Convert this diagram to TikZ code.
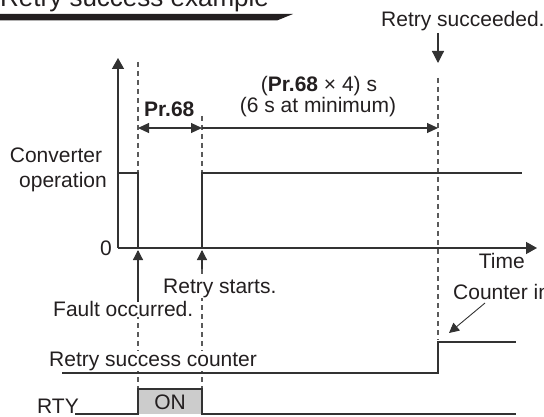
\documentclass[tikz,border=0pt]{standalone}
\usepackage{fontspec}
\setmainfont{Liberation Sans}
\usetikzlibrary{arrows.meta,positioning}
\definecolor{inkgray}{RGB}{35,31,32}
\definecolor{linegray}{RGB}{50,50,50}
\definecolor{dashgray}{RGB}{90,90,90}
\definecolor{onfill}{RGB}{204,204,204}

\begin{document}
\begin{tikzpicture}[x=1pt, y=-1pt,
  lbl/.style={font=\fontsize{21}{24}\selectfont, text=inkgray, inner sep=1pt},
  cutlbl/.style={lbl, fill=white},
  sigline/.style={line width=1.4pt, color=linegray},
  axisedge/.style={line width=1.5pt, color=linegray, -{Triangle[length=11pt, width=12pt]}},
  guideline/.style={line width=1.3pt, color=dashgray, dash pattern=on 5pt off 4pt},
  dimedge/.style={line width=1.1pt, color=linegray,
                  {Triangle[length=11pt, width=10pt]}-{Triangle[length=11pt, width=10pt]}},
  spanedge/.style={line width=1.1pt, color=linegray, -{Triangle[length=11pt, width=10pt]}},
  evedge/.style={line width=1.2pt, color=linegray, -{Triangle[length=10pt, width=10pt]}}
]
\clip (0,0) rectangle (544,417);

%% ===== title =====
\node[anchor=base west, font=\fontsize{26}{30}\selectfont, text=inkgray, inner sep=0pt]
  (title) at (0,7) {Retry success example};
\fill[inkgray] (0,14) -- (293,14) -- (277,20.5) -- (0,20.5) -- cycle;

%% ===== time marks =====
\coordinate (fTop) at (138,62);   \coordinate (fBot) at (138,389);
\coordinate (rTop) at (202,116);  \coordinate (rBot) at (202,389);
\coordinate (sTop) at (438,78);   \coordinate (sBot) at (438,340);
\draw[guideline] (fTop) -- (fBot);
\draw[guideline] (rTop) -- (rBot);
\draw[guideline] (sTop) -- (sBot);

%% ===== labels (cut the guides) =====
\node[cutlbl, anchor=base west] (fault) at (52,316) {Fault occurred.};
\node[cutlbl, anchor=base west] (start) at (162,293) {Retry starts.};
\node[cutlbl, anchor=base west] (cntlbl) at (48,366) {Retry success counter};
\node[lbl, anchor=base west] (succ) at (380,27) {Retry succeeded.};
\node[lbl, anchor=base west] (incr) at (452,299) {Counter in};

%% ===== axes =====
\coordinate (org) at (118,248);
\coordinate (ytop) at (118,58);
\coordinate (xend) at (537,248);
\draw[axisedge] (org) -- (ytop);
\draw[axisedge] (org) -- (xend);
\node[lbl, anchor=base east] (zero) at (113,255) {0};
\node[lbl, anchor=base east] (time) at (526,268) {Time};
\node[lbl, anchor=base] (conv) at (56,163) {Converter};
\node[lbl, anchor=base] (oper) at (63,188) {operation};

%% ===== converter operation =====
\draw[sigline] (118,173) -| (138,248);
\draw[sigline] (202,248) |- (522,173);

%% ===== durations =====
\coordinate (dA) at (138,128);
\coordinate (dB) at (202,128);
\coordinate (dC) at (438,128);
\draw[dimedge] (dA) -- (dB);
\draw[spanedge] (dB) -- (dC);
\node[lbl, anchor=base west, font=\fontsize{21}{24}\selectfont\bfseries] (pr) at (143,117) {Pr.68};
\node[lbl, anchor=base] (prx) at (319,92) {(\textbf{Pr.68} × 4) s};
\node[lbl, anchor=base] (prmin) at (318,113) {(6 s at minimum)};

%% ===== event arrows =====
\coordinate (fArr) at (138,302);
\coordinate (fTip) at (138,250);
\coordinate (rArr) at (202,269);
\coordinate (rTip) at (202,250);
\coordinate (sArr) at (438,33);
\coordinate (sTip) at (438,63);
\coordinate (iArr) at (485,303);
\coordinate (iTip) at (449,333);
\draw[evedge] (fArr) -- (fTip);
\draw[evedge] (rArr) -- (rTip);
\draw[evedge, -{Triangle[length=12pt, width=12pt]}] (sArr) -- (sTip);
\draw[evedge, line width=0.9pt] (iArr) -- (iTip);

%% ===== retry success counter =====
\draw[sigline] (62,373) -- (438,373) |- (516,342);

%% ===== RTY =====
\fill[onfill] (138,389) rectangle (202,414);
\draw[sigline] (75,414) -- (138,414) -- (138,389) -- (202,389) -- (202,414) -- (516,414);
\node[lbl, anchor=base east] (rty) at (80,413) {RTY};
\node[lbl] (on) at (170,402) {ON};

\end{tikzpicture}
\end{document}
